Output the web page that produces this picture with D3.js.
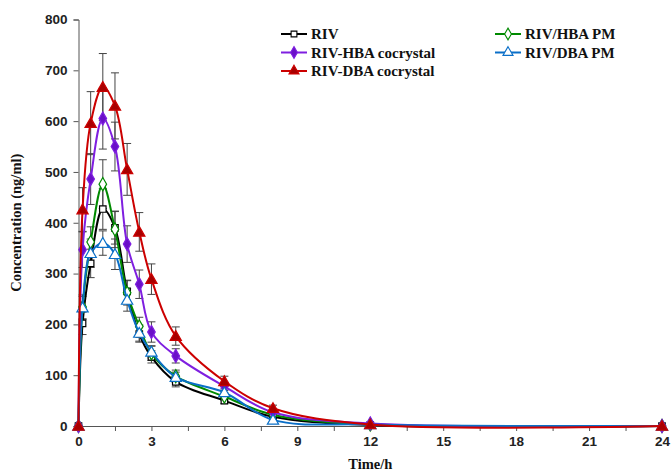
<!DOCTYPE html>
<html>
<head>
<meta charset="utf-8">
<script src="https://cdn.jsdelivr.net/npm/d3@7"></script>
<style>
	body { margin: 0; background: #fff; }
	.tick text { font-family: "Liberation Sans", Arial, sans-serif; font-weight: bold; font-size: 13.5px; fill: #222; }
	.legend text { font-family: "Liberation Serif", "Times New Roman", serif; font-weight: bold; font-size: 15px; fill: #111; }
	.axis-title { font-family: "Liberation Serif", "Times New Roman", serif; font-weight: bold; font-size: 14.5px; fill: #111; }
</style>
</head>
<body>
<div id="chart"></div>
<script>
// sampling times (h)
const times = [0, 0.167, 0.5, 1, 1.5, 2, 2.5, 3, 4, 6, 8, 12, 24];

// mean plasma concentrations (ng/ml)
const rivMean    = [0, 202, 320, 427, 390, 265, 181, 136, 87, 50, 18, 2, 0];
const hbaPmMean  = [0, 234, 362, 476, 387, 262, 196, 143, 98, 58, 22, 3, 0];
const hbaCoMean  = [0, 347, 486, 605, 550, 358, 279, 185, 138, 78, 27, 5, 0];
const dbaPmMean  = [0, 233, 340, 360, 338, 248, 183, 146, 96, 66, 12, 3, 0];
const dbaCoMean  = [0, 426, 596, 667, 630, 505, 382, 289, 177, 88, 35, 3, 0];

// standard deviations
const rivSd    = [0, 22, 28, 40, 32, 22, 16, 12, 10, 6, 5, 1, 0];
const hbaPmSd  = [0, 24, 30, 48, 36, 24, 18, 14, 12, 7, 5, 1, 0];
const hbaCoSd  = [0, 35, 50, 60, 48, 36, 28, 20, 14, 8, 5, 1, 0];
const dbaPmSd  = [0, 22, 28, 24, 30, 22, 16, 12, 10, 7, 4, 1, 0];
const dbaCoSd  = [0, 43, 62, 66, 65, 51, 38, 30, 18, 10, 6, 2, 0];

const seriesNames = ["RIV", "RIV/HBA PM", "RIV-HBA cocrystal", "RIV/DBA PM", "RIV-DBA cocrystal"];
const xTicks = [0, 3, 6, 9, 12, 15, 18, 21, 24];
const yTicks = [0, 100, 200, 300, 400, 500, 600, 700, 800];

const series = [
	{ name: seriesNames[0], mean: rivMean,   sd: rivSd,   color: "#000000", fill: "#ffffff", symbol: "square" },
	{ name: seriesNames[1], mean: hbaPmMean, sd: hbaPmSd, color: "#008a00", fill: "#ffffff", symbol: "diamond" },
	{ name: seriesNames[2], mean: hbaCoMean, sd: hbaCoSd, color: "#7f1fe0", fill: "#6a10c8", symbol: "diamond" },
	{ name: seriesNames[3], mean: dbaPmMean, sd: dbaPmSd, color: "#0a6fc8", fill: "#ffffff", symbol: "triangle" },
	{ name: seriesNames[4], mean: dbaCoMean, sd: dbaCoSd, color: "#cc0000", fill: "#a80000", symbol: "triangle" }
];

const W = 671, H = 476;
const margin = { top: 19.5, right: 9, bottom: 50, left: 78.5 };

const svg = d3.select("#chart").append("svg")
	.attr("width", W)
	.attr("height", H);

const x = d3.scaleLinear().domain([0, 24]).range([margin.left, W - margin.right]);
const y = d3.scaleLinear().domain([0, 800]).range([H - margin.bottom, margin.top]);

// axes
const xAxis = d3.axisBottom(x)
	.tickValues(d3.range(0, 24.01, 1.5))
	.tickSize(5)
	.tickFormat(d => xTicks.includes(d) ? d : "");
svg.append("g")
	.attr("transform", `translate(0,${y(0)})`)
	.call(xAxis)
	.call(g => g.selectAll("path, line").attr("stroke", "#555"))
	.call(g => g.selectAll("text").attr("dy", "0.9em"));

const yAxis = d3.axisLeft(y).tickValues(yTicks).tickSize(5).tickPadding(6);
svg.append("g")
	.attr("transform", `translate(${x(0)},0)`)
	.call(yAxis)
	.call(g => g.selectAll("path, line").attr("stroke", "#555"));

svg.append("text")
	.attr("class", "axis-title")
	.attr("x", (x(0) + x(24)) / 2)
	.attr("y", 469)
	.attr("text-anchor", "middle")
	.text("Time/h");

svg.append("text")
	.attr("class", "axis-title")
	.attr("transform", `translate(21,${(y(0) + y(800)) / 2}) rotate(-90)`)
	.attr("text-anchor", "middle")
	.text("Concentration (ng/ml)");

const symbolType = { square: d3.symbolSquare, diamond: d3.symbolDiamond, triangle: d3.symbolTriangle };
const symbolSize = { square: 42, diamond: 50, triangle: 55 };

const line = d3.line()
	.x(d => x(d.t))
	.y(d => y(d.v))
	.curve(d3.curveCatmullRom.alpha(0.5));

const plot = svg.append("g");

// error bars first
series.forEach(s => {
	const pts = times.map((t, i) => ({ t: t, v: s.mean[i], e: s.sd[i] })).filter(d => d.e > 0);
	const eb = plot.append("g").attr("stroke", "#444").attr("stroke-width", 1);
	eb.selectAll(".err").data(pts).enter().append("line")
		.attr("x1", d => x(d.t)).attr("x2", d => x(d.t))
		.attr("y1", d => y(d.v + d.e)).attr("y2", d => y(d.v - d.e));
	eb.selectAll(".capTop").data(pts).enter().append("line")
		.attr("x1", d => x(d.t) - 4).attr("x2", d => x(d.t) + 4)
		.attr("y1", d => y(d.v + d.e)).attr("y2", d => y(d.v + d.e));
	eb.selectAll(".capBot").data(pts).enter().append("line")
		.attr("x1", d => x(d.t) - 4).attr("x2", d => x(d.t) + 4)
		.attr("y1", d => y(d.v - d.e)).attr("y2", d => y(d.v - d.e));
});

series.forEach(s => {
	const pts = times.map((t, i) => ({ t: t, v: s.mean[i] }));
	plot.append("path")
		.datum(pts)
		.attr("fill", "none")
		.attr("stroke", s.color)
		.attr("stroke-width", 2)
		.attr("d", line);

	const sym = d3.symbol().type(symbolType[s.symbol]).size(symbolSize[s.symbol]);
	plot.append("g").selectAll("path")
		.data(pts)
		.enter()
		.append("path")
		.attr("transform", d => `translate(${x(d.t)},${y(d.v) + (s.symbol === "triangle" ? 1 : 0)})`)
		.attr("d", sym)
		.attr("fill", s.fill)
		.attr("stroke", s.color)
		.attr("stroke-width", 1.2);
});

// legend, two columns filled row by row
const legend = svg.append("g").attr("class", "legend");
const legPos = [[281, 34], [495, 34], [281, 52.5], [495, 52.5], [281, 71]];
series.forEach((s, i) => {
	const g = legend.append("g").attr("transform", `translate(${legPos[i][0]},${legPos[i][1]})`);
	g.append("line").attr("x1", 0).attr("x2", 26).attr("y1", 0).attr("y2", 0)
		.attr("stroke", s.color).attr("stroke-width", 2);
	g.append("path")
		.attr("transform", "translate(13,0)")
		.attr("d", d3.symbol().type(symbolType[s.symbol]).size(symbolSize[s.symbol] * 0.8))
		.attr("fill", s.fill)
		.attr("stroke", s.color)
		.attr("stroke-width", 1.1);
	g.append("text").attr("x", 30).attr("y", 0).attr("dy", "0.35em").text(s.name);
});
</script>
</body>
</html>
